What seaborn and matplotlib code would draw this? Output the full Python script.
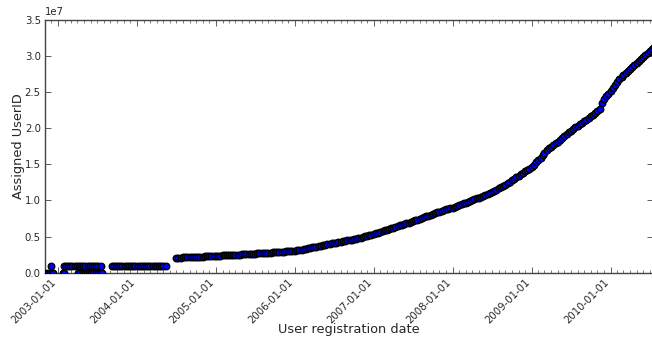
import matplotlib
matplotlib.use("Agg")
import matplotlib.pyplot as plt
import matplotlib.dates as mdates
from matplotlib.ticker import MultipleLocator
import pandas as pd
import seaborn as sns

# --- data -----------------------------------------------------------------
# accounts that ended up with a zero id
zero_dates = ["2002-10-25", "2002-11-04", "2002-11-14", "2002-11-24", "2002-12-04",
              "2002-12-09", "2003-01-24", "2003-01-30",
              "2003-04-05", "2003-04-15", "2003-04-25", "2003-05-05", "2003-05-15",
              "2003-05-25", "2003-06-04", "2003-06-14", "2003-06-24", "2003-07-04",
              "2003-07-14", "2003-07-24"]
zero_ids = [0.0] * len(zero_dates)

# first fixed id block (~1e6), handed out in two runs plus one early account
block1_dates = (["2002-11-30"]
                + list(pd.date_range("2003-01-28", "2003-07-22", freq="10D"))
                + list(pd.date_range("2003-09-06", "2004-05-21", freq="10D")))
block1_ids = [1.0e6] * len(block1_dates)

# sequential ids from mid-2004 on, in millions, read on the 1st, 11th and 21st
uid_2004 = [2.08, 2.09, 2.10, 2.12, 2.13, 2.14, 2.16, 2.17, 2.18,
            2.20, 2.21, 2.23, 2.25, 2.26, 2.28, 2.30, 2.32, 2.34]
uid_2005 = [2.36, 2.37, 2.38, 2.40, 2.41, 2.42, 2.44, 2.45, 2.46,
            2.48, 2.50, 2.51, 2.53, 2.55, 2.57, 2.59, 2.61, 2.63,
            2.65, 2.67, 2.69, 2.71, 2.73, 2.75, 2.77, 2.79, 2.81,
            2.83, 2.85, 2.88, 2.90, 2.93, 2.95, 2.98, 3.00, 3.03]
uid_2006 = [3.05, 3.10, 3.15, 3.20, 3.26, 3.31, 3.37, 3.43, 3.50,
            3.56, 3.63, 3.69, 3.76, 3.82, 3.88, 3.94, 3.99, 4.05,
            4.10, 4.17, 4.25, 4.32, 4.38, 4.43, 4.48, 4.54, 4.59,
            4.65, 4.72, 4.80, 4.87, 4.95, 5.02, 5.10, 5.18, 5.27]
uid_2007 = [5.35, 5.45, 5.55, 5.65, 5.75, 5.85, 5.95, 6.05, 6.15,
            6.25, 6.35, 6.45, 6.55, 6.65, 6.75, 6.85, 6.95, 7.05,
            7.15, 7.25, 7.36, 7.47, 7.58, 7.69, 7.80, 7.91, 8.03,
            8.14, 8.25, 8.36, 8.47, 8.58, 8.69, 8.80, 8.86, 8.92]
uid_2008 = [9.00, 9.10, 9.21, 9.32, 9.45, 9.58, 9.70, 9.82, 9.94,
            10.05, 10.17, 10.28, 10.40, 10.52, 10.63, 10.75, 10.87, 10.98,
            11.10, 11.28, 11.46, 11.65, 11.83, 12.01, 12.20, 12.40, 12.60,
            12.80, 13.00, 13.20, 13.40, 13.60, 13.80, 14.00, 14.20, 14.40]
uid_2009 = [14.60, 14.90, 15.25, 15.60, 15.93, 16.27, 16.60, 16.90, 17.20,
            17.45, 17.65, 17.87, 18.10, 18.35, 18.60, 18.85, 19.12, 19.40,
            19.65, 19.87, 20.08, 20.30, 20.52, 20.74, 20.95, 21.17, 21.39,
            21.60, 21.83, 22.06, 22.30, 22.70, 23.50, 24.00, 24.40, 24.75]
uid_2010 = [25.10, 25.55, 26.00, 26.40, 26.75, 27.10, 27.40, 27.67, 27.93,
            28.20, 28.47, 28.73, 29.00, 29.27, 29.53, 29.80, 30.07, 30.33,
            30.60, 30.87, 31.14]

month_starts = pd.date_range("2004-07-01", "2010-07-01", freq="MS")
curve_dates = [m + pd.Timedelta(days=d) for m in month_starts for d in (0, 10, 20)]
curve_ids = [v * 1e6 for v in (uid_2004 + uid_2005 + uid_2006 + uid_2007 +
                               uid_2008 + uid_2009 + uid_2010)]

df = pd.DataFrame({
    "date": pd.to_datetime(list(zero_dates) + list(block1_dates) + curve_dates),
    "uid": zero_ids + block1_ids + curve_ids,
})

# --- figure ---------------------------------------------------------------
sns.set_style("ticks")
plt.rcParams["font.family"] = ["DejaVu Sans"]

W, H = 652, 337
fig = plt.figure(figsize=(W / 100, H / 100), dpi=100)
left, right, top, bottom = 45, 653, 19.5, 272.8
ax = fig.add_axes([left / W, 1 - bottom / H, (right - left) / W, (bottom - top) / H])

sns.scatterplot(data=df, x="date", y="uid", ax=ax, color="#0000ff",
                edgecolor="black", linewidth=1.0, s=22, legend=False, zorder=3)

ax.set_xlim(pd.Timestamp("2002-11-02"), pd.Timestamp("2010-07-16"))
ax.set_ylim(0, 3.5e7)
ax.yaxis.set_major_locator(MultipleLocator(5e6))

ax.xaxis.set_major_locator(mdates.YearLocator())
ax.xaxis.set_minor_locator(mdates.MonthLocator())
ax.xaxis.set_major_formatter(mdates.DateFormatter("%Y-%m-%d"))

for sp in ax.spines.values():
    sp.set_visible(True)
    sp.set_color("#444444")
    sp.set_linewidth(1.0)

ax.tick_params(which="both", direction="in", top=True, right=True,
               color="#444444", labelsize=7.3, pad=3)
ax.tick_params(which="major", length=4, width=0.6)
ax.tick_params(which="minor", length=2, width=0.5)
ax.tick_params(axis="x", labelrotation=45)
for lbl in ax.get_xticklabels():
    lbl.set_ha("right")
ax.yaxis.get_offset_text().set_fontsize(7.3)

ax.set_xlabel("User registration date", fontsize=9.3, labelpad=-2)
ax.set_ylabel("Assigned UserID", fontsize=9.3, labelpad=0)

fig.savefig("out.png", dpi=100)
